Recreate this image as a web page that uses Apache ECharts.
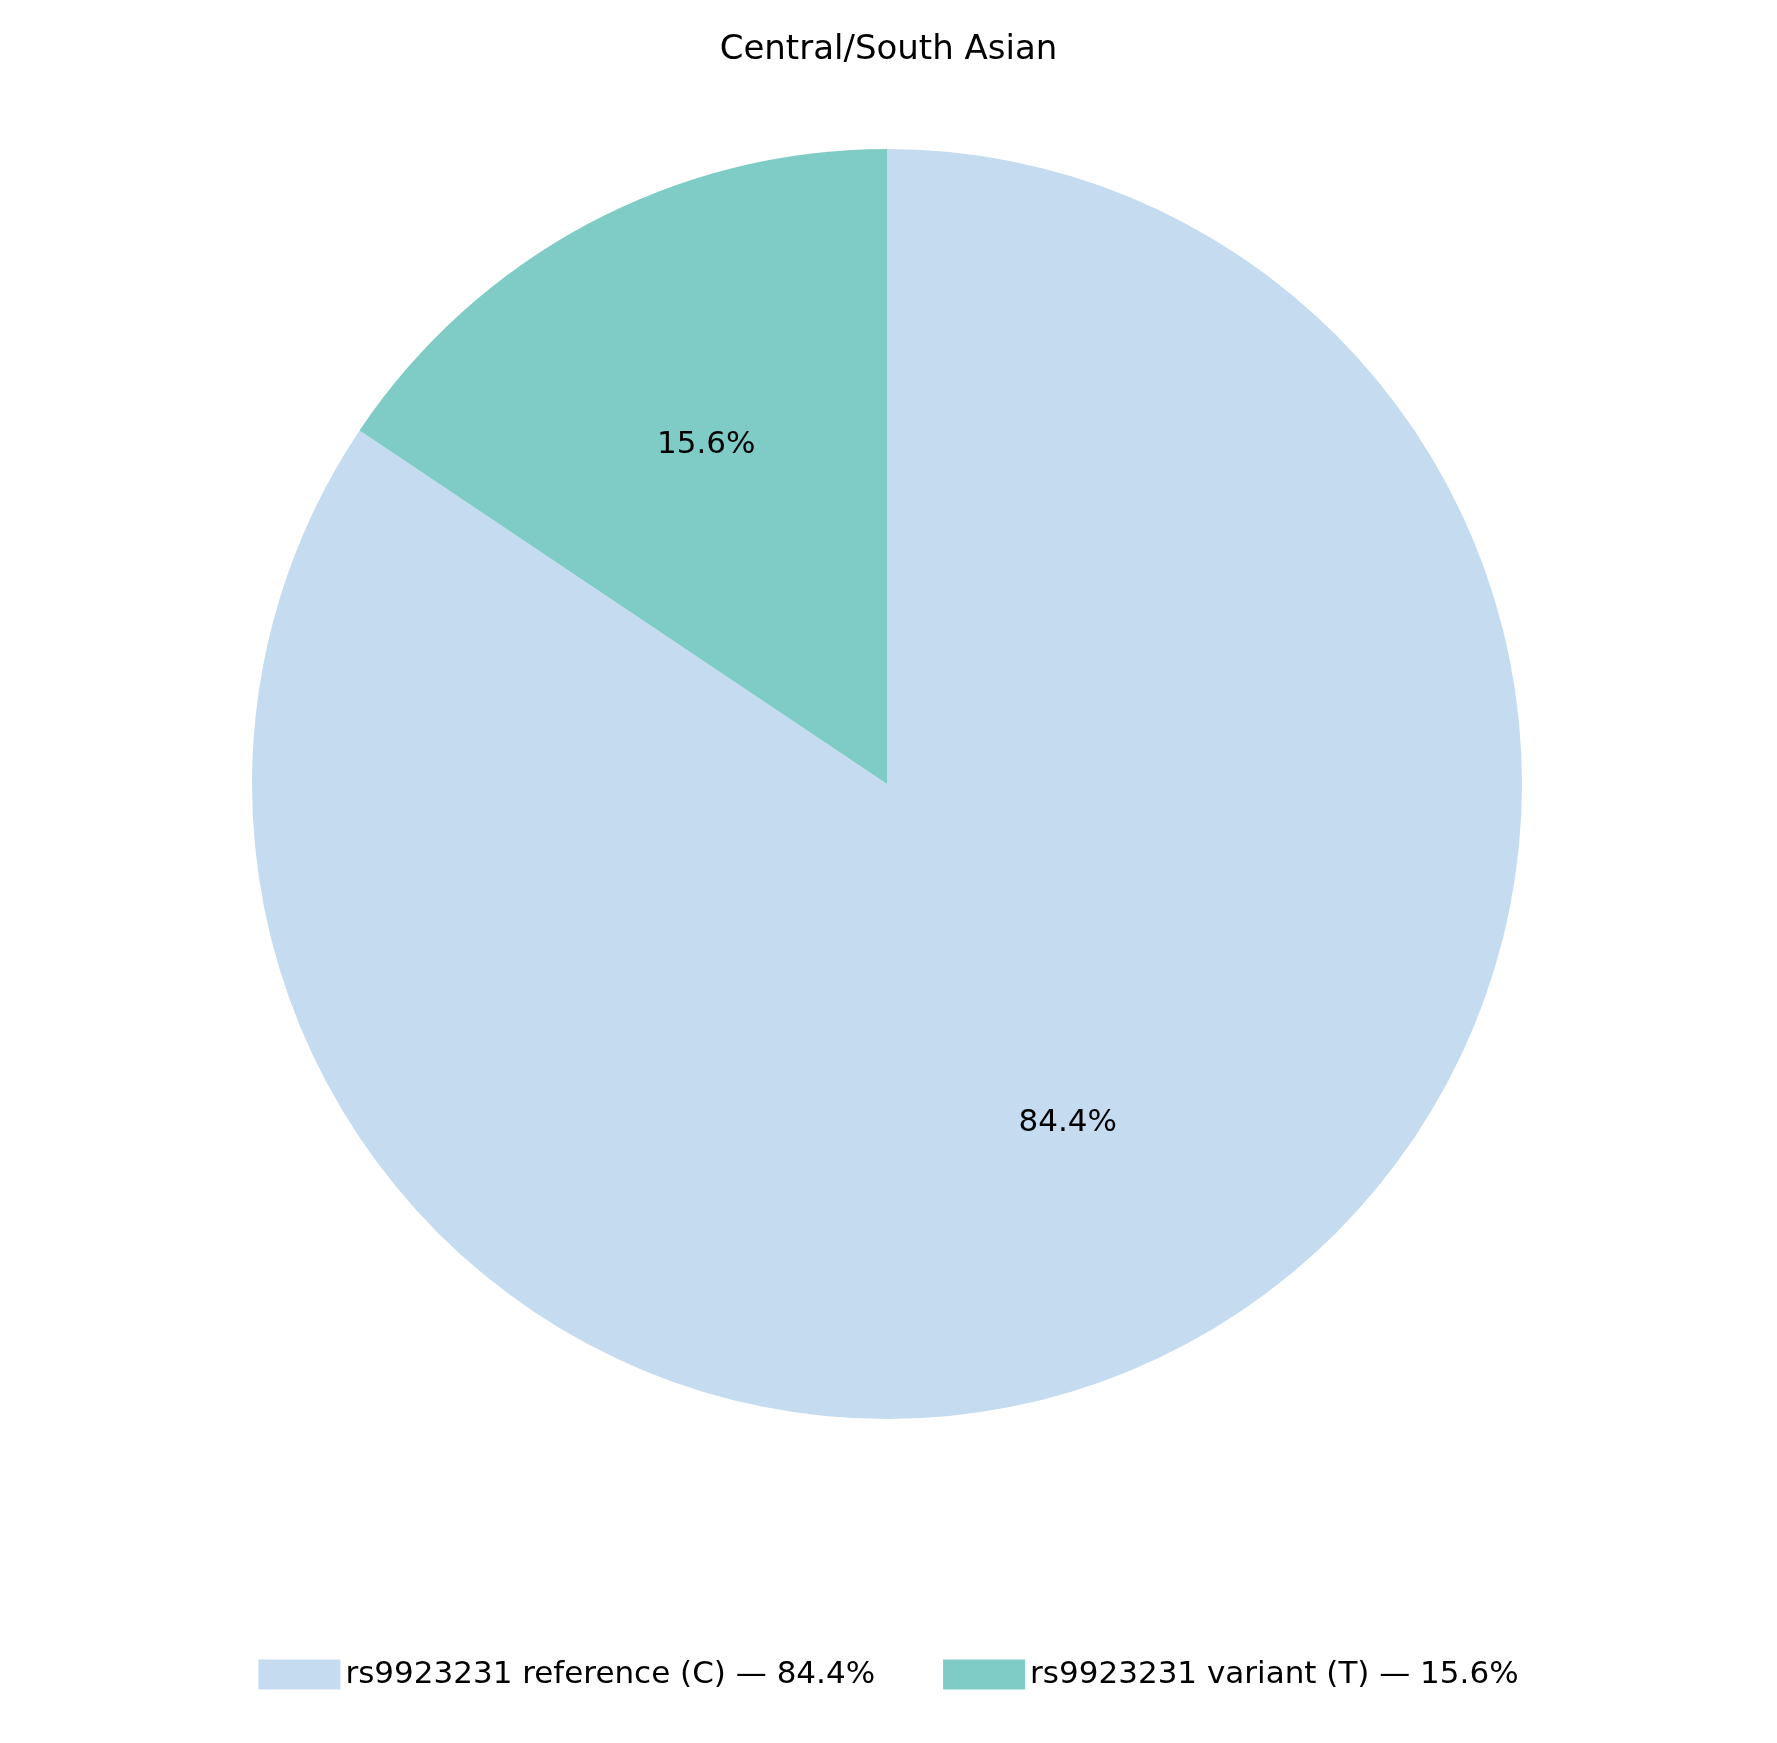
<!DOCTYPE html>
<html><head><meta charset="utf-8">
<script src="https://cdn.jsdelivr.net/npm/echarts@6/dist/echarts.min.js"></script>
<style>html,body{margin:0;padding:0;background:#fff}#c{width:1777px;height:1743px}</style>
</head><body><div id="c"></div>
<script>
const title = 'Central/South Asian';
const categories = ['rs9923231 reference (C)', 'rs9923231 variant (T)'];
const values = [84.4, 15.6];
const colors = ['#c5dbf0', '#7eccc5'];
const font = 'DejaVu Sans';
const R = 635;
const chart = echarts.init(document.getElementById('c'));
const data = categories.map((n, i) => ({name: n, value: values[i], itemStyle: {color: colors[i]}}));
chart.setOption({
  animation: false,
  title: {text: title, left: 'center', top: 28, textStyle: {fontFamily: font, fontWeight: 'normal', fontSize: 34, color: '#000'}},
  legend: {
    bottom: 48, left: 'center', itemWidth: 82, itemHeight: 30, itemGap: 68, icon: 'rect',
    textStyle: {fontFamily: font, fontSize: 31, color: '#000'},
    formatter: n => n + ' \u2014 ' + values[categories.indexOf(n)].toFixed(1) + '%',
    data: categories
  },
  series: [
    {type: 'pie', center: [887, 784], radius: [0, R], startAngle: 90, clockwise: true,
     label: {show: false}, labelLine: {show: false}, emphasis: {disabled: true}, data: data},
    {type: 'pie', center: [887, 784], radius: [0, R * 1.2], startAngle: 90, clockwise: true, silent: true,
     legendHoverLink: false, z: 5,
     itemStyle: {color: 'rgba(0,0,0,0)'},
     label: {show: true, position: 'inside', fontFamily: font, fontSize: 31, color: '#000',
       formatter: p => p.value.toFixed(1) + '%'},
     labelLine: {show: false}, emphasis: {disabled: true},
     data: categories.map((n, i) => ({name: n + ' ', value: values[i]}))}
  ]
});
</script></body></html>
